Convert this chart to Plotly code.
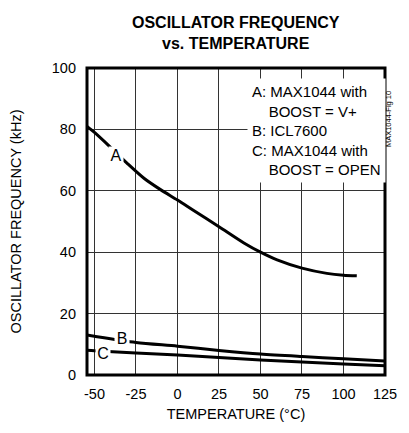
import plotly.graph_objects as go

# --- data ---
temp_a = [-54.5, -50, -40, -30, -20, -10, 0, 10, 25, 40, 50, 60, 75, 90, 100, 108]
freq_a = [81.0, 79.0, 74.0, 68.8, 64.0, 60.3, 57.0, 53.5, 48.3, 43.0, 40.0, 37.5, 34.8, 33.1, 32.5, 32.3]

temp_b = [-54.5, -50, -25, 0, 25, 50, 75, 100, 125]
freq_b = [13.0, 12.6, 10.6, 9.4, 8.0, 6.8, 6.0, 5.3, 4.6]

temp_c = [-54.5, -50, -25, 0, 25, 50, 75, 100, 125]
freq_c = [8.1, 7.9, 7.2, 6.5, 5.7, 4.9, 4.2, 3.6, 3.0]

x_ticks = [-50, -25, 0, 25, 50, 75, 100, 125]
y_ticks = [0, 20, 40, 60, 80, 100]

curve_labels = [("A", -37, 71.7), ("B", -33.5, 12.0), ("C", -44.6, 7.3)]

legend_lines = [
    "A: MAX1044 with",
    "\u00a0\u00a0\u00a0\u00a0BOOST = V+",
    "B: ICL7600",
    "C: MAX1044 with",
    "\u00a0\u00a0\u00a0\u00a0BOOST = OPEN",
]

FONT = "Liberation Sans, Arial, sans-serif"

fig = go.Figure()
for xs, ys in [(temp_a, freq_a), (temp_b, freq_b), (temp_c, freq_c)]:
    fig.add_trace(go.Scatter(x=xs, y=ys, mode="lines",
                             line=dict(color="black", width=3, shape="spline", smoothing=0.8),
                             showlegend=False, hoverinfo="skip"))

for txt, xv, yv in curve_labels:
    fig.add_annotation(x=xv, y=yv, text=txt, showarrow=False,
                       font=dict(family=FONT, size=16, color="black"),
                       bgcolor="white", borderpad=0, width=14, height=16)

fig.add_annotation(xref="paper", yref="paper", x=0.536, y=0.967,
                   xanchor="left", yanchor="top", align="left",
                   text="<br>".join(legend_lines), showarrow=False,
                   font=dict(family=FONT, size=15, color="black"),
                   bgcolor="white", borderpad=4)

fig.add_annotation(xref="paper", yref="paper", x=1.036, y=0.932,
                   text="MAX1044-Fig 10", textangle=-90, showarrow=False,
                   font=dict(family=FONT, size=7.5, color="black"))

# title (two lines)
fig.add_annotation(xref="paper", yref="paper", x=0.5, y=1.1156,
                   xanchor="center", yanchor="middle", align="center",
                   text="<b>OSCILLATOR FREQUENCY<br>vs. TEMPERATURE</b>", showarrow=False,
                   font=dict(family=FONT, size=16, color="black"))

# plot frame
fig.add_shape(type="rect", xref="paper", yref="paper", x0=0, x1=1, y0=0, y1=1,
              line=dict(color="black", width=3), layer="above")

fig.update_layout(
    width=409, height=433,
    margin=dict(l=87, r=14, t=68, b=58),
    paper_bgcolor="white", plot_bgcolor="white",
    xaxis=dict(range=[-54.5, 125], tickvals=x_ticks, ticktext=[str(v) for v in x_ticks],
               showgrid=True, gridcolor="#333", gridwidth=1.2, zeroline=False,
               showline=False, ticks="", ticklabelstandoff=8,
               tickfont=dict(family=FONT, size=14.5, color="black"),
               title=dict(text="TEMPERATURE (°C)", standoff=8,
                          font=dict(family=FONT, size=14.5, color="black"))),
    yaxis=dict(range=[0, 100], tickvals=y_ticks, ticktext=[str(v) for v in y_ticks],
               showgrid=True, gridcolor="#333", gridwidth=1.2, zeroline=False,
               showline=False, ticks="", ticklabelstandoff=10,
               tickfont=dict(family=FONT, size=14.5, color="black"),
               title=dict(text="OSCILLATOR FREQUENCY (kHz)", standoff=26,
                          font=dict(family=FONT, size=14.5, color="black"))),
)

fig.write_html("out.html", config={"displayModeBar": False},
               post_script="document.body.style.margin='0';")
